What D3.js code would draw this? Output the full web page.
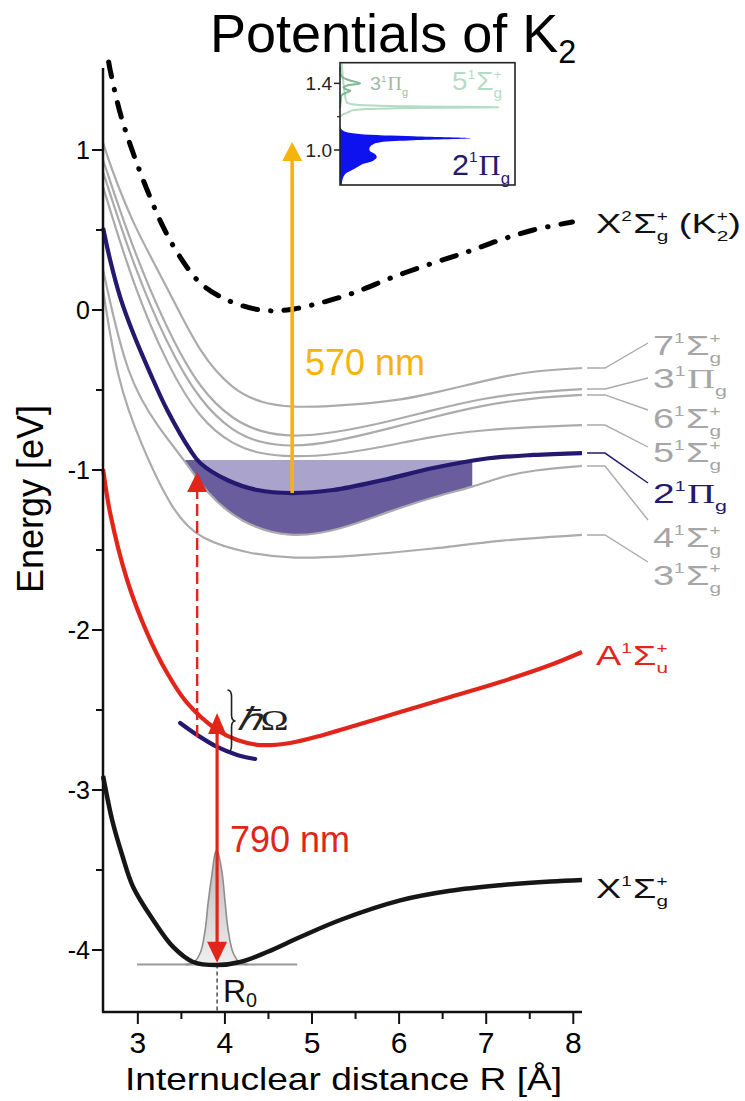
<!DOCTYPE html>
<html><head><meta charset="utf-8">
<script src="https://cdn.jsdelivr.net/npm/d3@7"></script>
<style>body{margin:0;background:#fff;} svg{display:block;}</style>
</head><body>
<svg id="chart" width="745" height="1101"></svg>
<script>
// ---------------- DATA (R in Å, E in eV) ----------------
const xTicks = [3, 4, 5, 6, 7, 8];
const xMinorTicks = [3.5, 4.5, 5.5, 6.5, 7.5];
const yTicks = [-4, -3, -2, -1, 0, 1];
const yMinorTicks = [-3.5, -2.5, -1.5, -0.5, 0.5];

const cationX2Sg = [[2.665,1.55],[2.682,1.50],[2.797,1.231],[2.946,0.981],[3.107,0.75],[3.291,0.519],[3.486,0.331],[3.716,0.169],[4.026,0.0625],[4.405,0.0],[4.714,0.0],[5.093,0.044],[5.473,0.106],[5.932,0.206],[6.392,0.294],[6.782,0.363],[7.161,0.4375],[7.54,0.5],[7.99,0.55]];
const state7Sg = [[2.601,1.044],[2.682,0.906],[2.946,0.531],[3.337,0.144],[3.716,-0.281],[4.095,-0.5],[4.405,-0.58],[4.772,-0.61],[5.243,-0.6],[5.634,-0.585],[6.013,-0.5625],[6.392,-0.519],[6.783,-0.469],[7.161,-0.419],[7.54,-0.381],[8.1,-0.3625]];
const state3Pg = [[2.601,0.9375],[2.946,0.375],[3.337,-0.125],[3.716,-0.5],[4.095,-0.6875],[4.405,-0.7625],[4.772,-0.794],[5.243,-0.769],[5.817,-0.706],[6.392,-0.625],[6.966,-0.55],[7.54,-0.5125],[8.1,-0.494]];
const state6Sg = [[2.601,0.8625],[2.946,0.281],[3.337,-0.219],[3.716,-0.575],[4.095,-0.7625],[4.405,-0.831],[4.772,-0.856],[5.243,-0.825],[5.817,-0.75],[6.392,-0.669],[6.966,-0.594],[7.54,-0.55],[8.1,-0.531]];
const state5Sg = [[2.601,0.769],[2.946,0.156],[3.337,-0.344],[3.716,-0.6875],[4.095,-0.844],[4.405,-0.9],[4.772,-0.919],[5.243,-0.906],[5.817,-0.856],[6.392,-0.7875],[6.966,-0.75],[7.54,-0.731],[8.1,-0.719]];
const state4Sg = [[2.601,0.25],[2.877,-0.4375],[3.256,-0.75],[3.543,-0.944],[3.796,-1.15],[4.175,-1.33],[4.749,-1.43],[5.324,-1.375],[5.898,-1.255],[6.472,-1.156],[6.851,-1.106],[7.161,-1.044],[7.54,-1.0],[8.1,-0.975]];
const state3Sg = [[2.601,0.125],[2.762,-0.4375],[3.026,-0.831],[3.405,-1.269],[3.716,-1.4375],[4.29,-1.525],[4.772,-1.555],[5.439,-1.54],[6.392,-1.494],[7.161,-1.4375],[8.1,-1.406]];
const state2Pg = [[2.601,0.5125],[2.682,0.3125],[2.797,0.081],[2.946,-0.144],[3.141,-0.394],[3.337,-0.625],[3.601,-0.875],[3.716,-0.956],[4.026,-1.0625],[4.37,-1.125],[4.772,-1.144],[5.243,-1.125],[5.817,-1.0625],[6.392,-0.9875],[6.966,-0.931],[7.54,-0.906],[8.1,-0.894]];
const state2PgDressed = [[3.486,-2.581],[3.681,-2.656],[3.911,-2.731],[4.141,-2.781],[4.347,-2.806]];
const stateA1Su = [[2.601,-0.994],[2.682,-1.269],[2.877,-1.6875],[3.107,-2.019],[3.337,-2.269],[3.566,-2.456],[3.911,-2.625],[4.141,-2.6875],[4.405,-2.719],[4.749,-2.706],[5.128,-2.656],[5.439,-2.606],[6.013,-2.5125],[6.587,-2.419],[7.161,-2.325],[7.736,-2.219],[8.1,-2.1375]];
const stateX1Sg = [[2.601,-2.9125],[2.705,-3.1875],[2.82,-3.406],[2.946,-3.606],[3.176,-3.8125],[3.405,-3.981],[3.635,-4.075],[3.911,-4.094],[4.175,-4.075],[4.485,-4.0125],[4.864,-3.919],[5.324,-3.8125],[6.013,-3.69],[6.587,-3.63],[7.161,-3.595],[7.736,-3.572],[8.1,-3.5625]];
const wavePacket = [[3.55,-4.09],[3.635,-4.081],[3.716,-4.019],[3.773,-3.875],[3.807,-3.706],[3.853,-3.519],[3.888,-3.394],[3.907,-3.375],[3.922,-3.394],[3.968,-3.519],[4.003,-3.706],[4.037,-3.875],[4.095,-4.019],[4.175,-4.081],[4.26,-4.09]];
const groundLevel = { E: -4.09, Rfrom: 2.99, Rto: 4.83 };
const R0 = 3.91;
const shadeTopE = -0.9375, shadeRightR = 6.84;
const pump790 = { R: 3.91, Elow: -4.08, Ehigh: -2.519 };
const dashArrow = { R: 3.681, Elow: -2.669, Ehigh: -1.0125 };
const probe570 = { R: 4.772, Elow: -1.144, Ehigh: 1.05 };
const braceE = [-2.375, -2.7625], braceR = 4.03;

// inset spectra (energy eV, normalised intensity)
const insetTicks = [1.0, 1.4];
const insetMinorTicks = [1.2];
const spec2PgE = [1.14,1.123,1.11,1.096,1.082,1.07,1.058,1.046,1.034,1.016,0.996,0.976,0.956,0.936,0.916,0.886,0.856,0.826,0.79];
const spec2PgI = [0,0.01,0.03,0.11,0.42,0.75,0.42,0.23,0.19,0.17,0.17,0.2,0.21,0.19,0.13,0.08,0.03,0.015,0.01];
const spec5SgE = [1.52,1.40,1.32,1.285,1.275,1.268,1.262,1.257,1.252,1.246,1.238,1.228,1.215,1.20];
const spec5SgI = [0.01,0.02,0.03,0.04,0.07,0.15,0.4,0.905,0.4,0.15,0.07,0.05,0.02,0.0];
const spec3PgE = [1.50,1.44,1.42,1.40,1.39,1.375,1.362,1.355,1.345,1.33,1.30,1.25];
const spec3PgI = [0.0,0.01,0.05,0.115,0.05,0.02,0.04,0.06,0.04,0.01,0.005,0.0];

// ---------------- SETUP ----------------
const SANS = "'Liberation Sans', Arial, Helvetica, sans-serif";
const SERIF = "'Liberation Serif', 'Times New Roman', serif";
const C = { gray:"#ababab", grayTxt:"#a6a6a6", blue:"#24196e", red:"#e1251b", yellow:"#f6b30c",
            black:"#161616", shadeL:"#aaa4cd", shadeD:"#6a5d9e" };

const svg = d3.select("#chart");
const x = d3.scaleLinear().domain([2.6, 8.1]).range([103, 582]);
const y = d3.scaleLinear().domain([-4.3875, 1.5125]).range([1012, 68]);
const line = d3.line().x(d => x(d[0])).y(d => y(d[1])).curve(d3.curveCatmullRom.alpha(0.5));
const smoothLine = d3.line().x(d => x(d[0])).y(d => y(d[1])).curve(d3.curveBasis);

function rich(parent, x0, y0, segs, fs, color, target) {
  const g = parent.append("g").attr("fill", color);
  let cx = x0;
  const mk = (txt, dy, size, fam, it) => {
    const t = g.append("text").attr("x", cx).attr("y", y0 + dy)
      .attr("font-size", size).attr("font-family", fam).text(txt);
    if (it) t.attr("font-style", "italic");
    return t;
  };
  segs.forEach(s => {
    const fam = s.f === "serif" ? SERIF : SANS;
    if (s.k === "stack") {
      const a = mk(s.sup, -fs * 0.42, fs * 0.5, SANS);
      const b = mk(s.sub, fs * 0.3, fs * 0.55, SANS);
      cx += Math.max(a.node().getComputedTextLength(), b.node().getComputedTextLength());
    } else if (s.k === "sup") {
      const a = mk(s.t, -fs * 0.42, fs * (s.s || 0.5), fam, s.it);
      cx += a.node().getComputedTextLength() + 1;
    } else if (s.k === "sub") {
      const a = mk(s.t, fs * (s.dy || 0.3), fs * (s.s || 0.55), fam, s.it);
      cx += a.node().getComputedTextLength();
    } else {
      const a = mk(s.t, 0, fs * (s.s || 1), fam, s.it);
      cx += a.node().getComputedTextLength() + (s.gap || 0);
    }
  });
  if (target) {
    const k = target / (cx - x0);
    g.attr("transform", `translate(${x0},0) scale(${k},1) translate(${-x0},0)`);
  }
  return g;
}
const stateSegs = (n, sup1, greek, sup2, sub) =>
  [{t:n}, {k:"sup", t:sup1}, {t:greek, f: greek === "Π" ? "serif" : "sans"}, {k:"stack", sup:sup2, sub:sub}];

// ---------------- SHADED REGION ----------------
const defs = svg.append("defs");
defs.append("clipPath").attr("id", "shadeClip").append("rect")
  .attr("x", x(2.6)).attr("y", y(shadeTopE))
  .attr("width", x(shadeRightR) - x(2.6)).attr("height", y(-3) - y(shadeTopE));
const closeTop = `L${x(8.1)},${y(1.5)}L${x(2.6)},${y(1.5)}Z`;
svg.append("path").attr("d", smoothLine(state4Sg) + closeTop).attr("fill", C.shadeD).attr("clip-path", "url(#shadeClip)");
svg.append("path").attr("d", line(state2Pg) + closeTop).attr("fill", C.shadeL).attr("clip-path", "url(#shadeClip)");

const grad = defs.append("linearGradient").attr("id", "wp").attr("x1", 0).attr("y1", 0).attr("x2", 0).attr("y2", 1);
grad.append("stop").attr("offset", "0%").attr("stop-color", "#b8b8b8");
grad.append("stop").attr("offset", "100%").attr("stop-color", "#efefef");

// ---------------- CURVES ----------------
const grayStates = [state7Sg, state3Pg, state6Sg, state5Sg, state4Sg, state3Sg];
svg.append("g").selectAll("path").data(grayStates).join("path")
  .attr("d", smoothLine).attr("fill", "none").attr("stroke", C.gray).attr("stroke-width", 2.2);

svg.append("path").attr("d", line(state2Pg)).attr("fill", "none").attr("stroke", C.blue).attr("stroke-width", 4.2);
svg.append("path").attr("d", line(state2PgDressed)).attr("fill", "none").attr("stroke", C.blue).attr("stroke-width", 4.2).attr("stroke-linecap", "round");

svg.append("path").attr("d", line(cationX2Sg)).attr("fill", "none").attr("stroke", "#000")
  .attr("stroke-width", 5).attr("stroke-linecap", "round").attr("stroke-dasharray", "15,13,0.5,13");

svg.append("path").attr("d", line(stateA1Su)).attr("fill", "none").attr("stroke", C.red).attr("stroke-width", 4.2);

svg.append("line").attr("x1", x(groundLevel.Rfrom)).attr("x2", x(groundLevel.Rto))
  .attr("y1", y(groundLevel.E)).attr("y2", y(groundLevel.E)).attr("stroke", "#9a9a9a").attr("stroke-width", 2);
svg.append("path").attr("d", line(wavePacket)).attr("fill", "url(#wp)").attr("stroke", "#8e8e8e").attr("stroke-width", 1.6);
svg.append("path").attr("d", line(stateX1Sg)).attr("fill", "none").attr("stroke", C.black).attr("stroke-width", 4.5);

svg.append("line").attr("x1", x(R0)).attr("x2", x(R0)).attr("y1", y(groundLevel.E)).attr("y2", y(-4.3875))
  .attr("stroke", "#222").attr("stroke-width", 1.2).attr("stroke-dasharray", "4,3");

// ---------------- ARROWS ----------------
function head(g, xc, tip, dir, w, len, col) {
  g.append("path").attr("d", `M${xc},${tip}L${xc - w / 2},${tip - dir * len}L${xc + w / 2},${tip - dir * len}Z`).attr("fill", col);
}
const ag = svg.append("g");
ag.append("line").attr("x1", x(probe570.R)).attr("x2", x(probe570.R))
  .attr("y1", y(probe570.Elow)).attr("y2", y(probe570.Ehigh) + 16).attr("stroke", C.yellow).attr("stroke-width", 3.6);
head(ag, x(probe570.R), y(probe570.Ehigh), -1, 20, 19, C.yellow);
ag.append("line").attr("x1", x(dashArrow.R)).attr("x2", x(dashArrow.R))
  .attr("y1", y(dashArrow.Elow)).attr("y2", y(dashArrow.Ehigh) + 18).attr("stroke", C.red)
  .attr("stroke-width", 2.4).attr("stroke-dasharray", "12,5");
head(ag, x(dashArrow.R), y(dashArrow.Ehigh), -1, 20, 20, C.red);
ag.append("line").attr("x1", x(pump790.R)).attr("x2", x(pump790.R))
  .attr("y1", y(pump790.Elow) - 18).attr("y2", y(pump790.Ehigh) + 18).attr("stroke", C.red).attr("stroke-width", 3.2);
head(ag, x(pump790.R), y(pump790.Ehigh), -1, 18, 21, C.red);
head(ag, x(pump790.R), y(pump790.Elow), 1, 20, 21, C.red);

{
  const x0 = x(braceR), y0 = y(braceE[0]), y1 = y(braceE[1]), ym = (y0 + y1) / 2, w = 8;
  svg.append("path").attr("d",
    `M${x0},${y0}Q${x0 + w / 2},${y0} ${x0 + w / 2},${y0 + 7}L${x0 + w / 2},${ym - 6}Q${x0 + w / 2},${ym} ${x0 + w},${ym}` +
    `Q${x0 + w / 2},${ym} ${x0 + w / 2},${ym + 6}L${x0 + w / 2},${y1 - 7}Q${x0 + w / 2},${y1} ${x0},${y1}`)
    .attr("fill", "none").attr("stroke", "#222").attr("stroke-width", 1.6);
  rich(svg, x0 + 9, ym + 9, [{t:"ℏ", f:"serif", it:true, s:1.05}, {t:"Ω", f:"serif"}], 30, "#222", 52);
}

// ---------------- AXES ----------------
const axG = svg.append("g").attr("font-family", SANS);
axG.append("line").attr("x1", 103).attr("x2", 103).attr("y1", y(1.5125)).attr("y2", y(-4.3875)).attr("stroke", "#111").attr("stroke-width", 2.5);
axG.append("line").attr("x1", 102).attr("x2", x(8.1)).attr("y1", 1012).attr("y2", 1012).attr("stroke", "#111").attr("stroke-width", 2.5);
yTicks.forEach(v => {
  axG.append("line").attr("x1", 92).attr("x2", 103).attr("y1", y(v)).attr("y2", y(v)).attr("stroke", "#111").attr("stroke-width", 2);
  axG.append("text").attr("x", 90).attr("y", y(v) + 9).attr("text-anchor", "end").attr("font-size", 25).text(v);
});
yMinorTicks.forEach(v => axG.append("line").attr("x1", 96).attr("x2", 103).attr("y1", y(v)).attr("y2", y(v)).attr("stroke", "#111").attr("stroke-width", 2));
xTicks.forEach(v => {
  axG.append("line").attr("x1", x(v)).attr("x2", x(v)).attr("y1", 1012).attr("y2", 1024).attr("stroke", "#111").attr("stroke-width", 2);
  axG.append("text").attr("x", x(v)).attr("y", 1053).attr("text-anchor", "middle").attr("font-size", 30).text(v);
});
xMinorTicks.forEach(v => axG.append("line").attr("x1", x(v)).attr("x2", x(v)).attr("y1", 1012).attr("y2", 1019).attr("stroke", "#111").attr("stroke-width", 2));
axG.append("text").attr("x", 125).attr("y", 1090).attr("font-size", 32).attr("textLength", 437)
  .attr("lengthAdjust", "spacingAndGlyphs").text("Internuclear distance R [Å]");
axG.append("text").attr("transform", "translate(43,499) rotate(-90)").attr("text-anchor", "middle")
  .attr("font-size", 36).text("Energy [eV]");

rich(svg, 210, 52, [{t:"Potentials of K"}, {k:"sub", t:"2", s:0.6, dy:0.2}], 54, "#000");

// ---------------- LABELS ----------------
rich(svg, 596, 233, [{t:"X"}, {k:"sup", t:"2"}, {t:"Σ"}, {k:"stack", sup:"+", sub:"g"}, {t:"\u00A0(K"}, {k:"stack", sup:"+", sub:"2"}, {t:")"}], 28, "#111", 145);
rich(svg, 596, 665, stateSegs("A", "1", "Σ", "+", "u"), 28, C.red, 72);
rich(svg, 596, 898, stateSegs("X", "1", "Σ", "+", "g"), 28, "#111", 72);

svg.append("text").attr("x", 305).attr("y", 375).attr("font-family", SANS).attr("font-size", 36).attr("fill", C.yellow).text("570 nm");
svg.append("text").attr("x", 230).attr("y", 852).attr("font-family", SANS).attr("font-size", 36).attr("fill", C.red).text("790 nm");
rich(svg, 223, 1002, [{t:"R"}, {k:"sub", t:"0", s:0.62, dy:0.15}], 32, "#111");

const rightLabels = [
  { data: state7Sg, segs: stateSegs("7", "1", "Σ", "+", "g"), base: 355, tgt: 343, col: C.grayTxt, line: C.gray, w: 68 },
  { data: state3Pg, segs: stateSegs("3", "1", "Π", "", "g"), base: 388, tgt: 378, col: C.grayTxt, line: C.gray, w: 74 },
  { data: state6Sg, segs: stateSegs("6", "1", "Σ", "+", "g"), base: 428, tgt: 410, col: C.grayTxt, line: C.gray, w: 68 },
  { data: state5Sg, segs: stateSegs("5", "1", "Σ", "+", "g"), base: 462, tgt: 447, col: C.grayTxt, line: C.gray, w: 68 },
  { data: state2Pg, segs: stateSegs("2", "1", "Π", "", "g"), base: 503, tgt: 483, col: C.blue, line: C.blue, w: 74 },
  { data: state4Sg, segs: stateSegs("4", "1", "Σ", "+", "g"), base: 547, tgt: 520, col: C.grayTxt, line: C.gray, w: 68 },
  { data: state3Sg, segs: stateSegs("3", "1", "Σ", "+", "g"), base: 585, tgt: 562, col: C.grayTxt, line: C.gray, w: 68 }
];
rightLabels.forEach(L => {
  const yEnd = y(L.data[L.data.length - 1][1]);
  svg.append("path").attr("d", `M587,${yEnd}L605,${yEnd}L648,${L.tgt}`).attr("fill", "none")
    .attr("stroke", L.line).attr("stroke-width", L.line === C.blue ? 1.5 : 1.4);
  rich(svg, 653, L.base, L.segs, 28, L.col, L.w);
});

// ---------------- INSET ----------------
const ix = d3.scaleLinear().domain([0, 1]).range([340, 515]);
const iy = d3.scaleLinear().domain([0.79, 1.524]).range([185, 62.7]);
const inset = svg.append("g");
inset.append("rect").attr("x", 340).attr("y", 62.7).attr("width", 175).attr("height", 122.3).attr("fill", "#fff");
const pts = (E, I) => E.map((e, i) => [I[i], e]);
inset.append("path").datum(pts(spec2PgE, spec2PgI))
  .attr("d", d3.area().y(d => iy(d[1])).x0(ix(0)).x1(d => ix(d[0])).curve(d3.curveCatmullRom.alpha(0.5)))
  .attr("fill", "#0d12ee");
const iline = d3.line().x(d => ix(d[0])).y(d => iy(d[1])).curve(d3.curveCatmullRom.alpha(0.5));
inset.append("path").datum(pts(spec5SgE, spec5SgI)).attr("d", iline).attr("fill", "none").attr("stroke", "#b4dcc4").attr("stroke-width", 2);
inset.append("path").datum(pts(spec3PgE, spec3PgI)).attr("d", iline).attr("fill", "none").attr("stroke", "#7db893").attr("stroke-width", 2);
inset.append("rect").attr("x", 340).attr("y", 62.7).attr("width", 175).attr("height", 122.3).attr("fill", "none").attr("stroke", "#222").attr("stroke-width", 1.6);
insetTicks.forEach(v => {
  inset.append("line").attr("x1", 334).attr("x2", 340).attr("y1", iy(v)).attr("y2", iy(v)).attr("stroke", "#222").attr("stroke-width", 1.5);
  inset.append("text").attr("x", 332).attr("y", iy(v) + 7).attr("text-anchor", "end").attr("font-family", SANS)
    .attr("font-size", 19).attr("fill", "#222").text(v.toFixed(1));
});
insetMinorTicks.forEach(v => inset.append("line").attr("x1", 337).attr("x2", 340).attr("y1", iy(v)).attr("y2", iy(v)).attr("stroke", "#222").attr("stroke-width", 1.2));
rich(inset, 370, 90, stateSegs("3", "1", "Π", "", "g"), 19, "#9fb8a9", 38);
rich(inset, 452, 90, stateSegs("5", "1", "Σ", "+", "g"), 26, "#b4dcc4", 50);
rich(inset, 452, 175, stateSegs("2", "1", "Π", "", "g"), 30, C.blue, 58);
</script>
</body></html>
